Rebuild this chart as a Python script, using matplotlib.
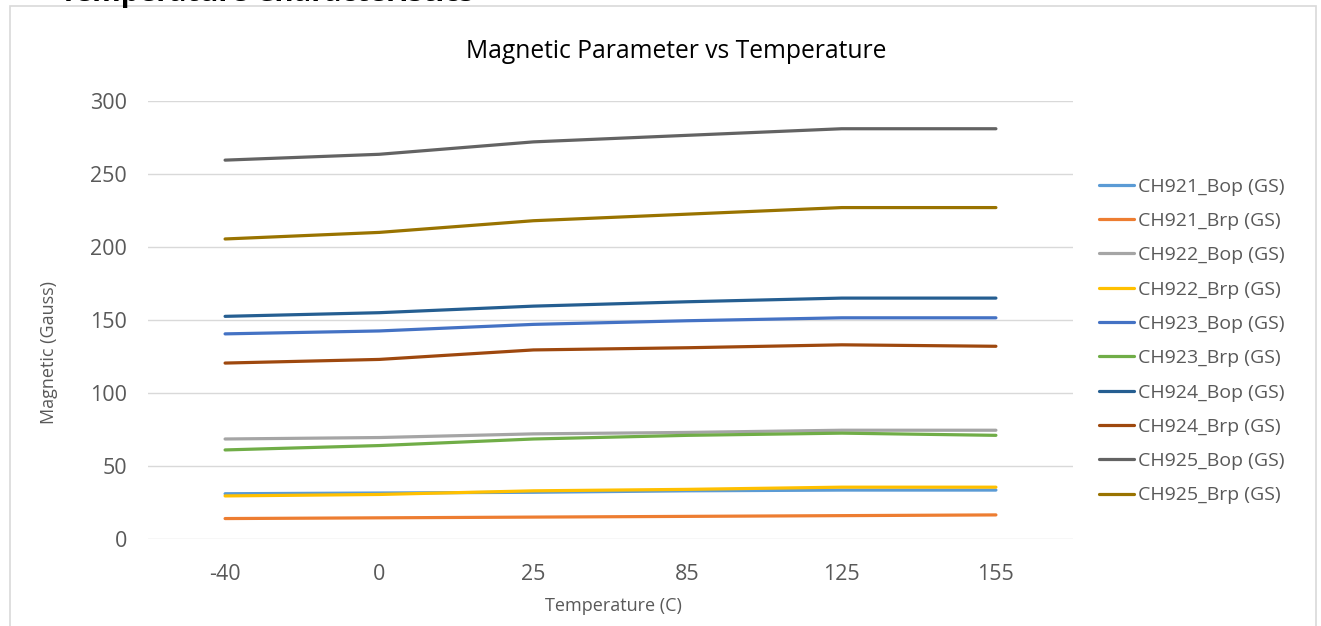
import matplotlib
matplotlib.use('Agg')
import matplotlib.pyplot as plt
from matplotlib.patches import Rectangle

plt.rcParams['font.family'] = ['Open Sans', 'DejaVu Sans']

# temperatures (categorical axis)
temperatures = ['-40', '0', '25', '85', '125', '155']

ch921_bop = [31, 31.5, 32, 33, 33.5, 33.5]
ch921_brp = [14, 14.5, 15, 15.5, 16, 16.5]
ch922_bop = [68.5, 69.5, 72, 73, 74.5, 74.5]
ch922_brp = [29.5, 30.5, 33, 34, 35.5, 35.5]
ch923_bop = [140.5, 142.5, 147, 149.5, 151.5, 151.5]
ch923_brp = [61, 64, 68.5, 71, 72.5, 71]
ch924_bop = [152.5, 155, 159.5, 162.5, 165, 165]
ch924_brp = [120.5, 123, 129.5, 131, 133, 132]
ch925_bop = [259.5, 263.5, 272, 276.5, 281, 281]
ch925_brp = [205.5, 210, 218, 222.5, 227, 227]

series_names = ['CH921_Bop (GS)', 'CH921_Brp (GS)', 'CH922_Bop (GS)', 'CH922_Brp (GS)',
                'CH923_Bop (GS)', 'CH923_Brp (GS)', 'CH924_Bop (GS)', 'CH924_Brp (GS)',
                'CH925_Bop (GS)', 'CH925_Brp (GS)']
series_values = [ch921_bop, ch921_brp, ch922_bop, ch922_brp, ch923_bop,
                 ch923_brp, ch924_bop, ch924_brp, ch925_bop, ch925_brp]
colors = ['#5B9BD5', '#ED7D31', '#A5A5A5', '#FFC000', '#4472C4',
          '#70AD47', '#255E91', '#9E480E', '#636363', '#997300']

W, H = 1321, 626
fig = plt.figure(figsize=(W / 100, H / 100), dpi=100)

# chart border
fig.patches.append(Rectangle((10 / W, -0.1), 1306 / W, 1.1 - 6 / H, transform=fig.transFigure,
                             fill=False, edgecolor='#D9D9D9', linewidth=1.2))
# heading of the page, mostly above the visible area
fig.text(60 / W, 1.0 + 6 / H, 'Temperature Characteristics', fontsize=21, fontweight='bold',
         color='black', ha='left', va='center')

ax = fig.add_axes([148 / W, 87 / H, 925 / W, 438 / H])
x = list(range(len(temperatures)))
for name, vals, c in zip(series_names, series_values, colors):
    ax.plot(x, vals, color=c, linewidth=2.3, label=name, solid_capstyle='round')

ax.set_xlim(-0.5, len(temperatures) - 0.5)
ax.set_ylim(0, 300)
ax.set_yticks(range(0, 301, 50))
ax.set_xticks(x)
ax.set_xticklabels(temperatures)
ax.grid(True, axis='y', color='#D9D9D9', linewidth=1)
ax.set_axisbelow(True)
for s in ax.spines.values():
    s.set_visible(False)
ax.tick_params(axis='both', length=0, labelsize=15.5, labelcolor='#595959')
ax.tick_params(axis='y', pad=15)
ax.tick_params(axis='x', pad=18)

fig.text(676 / W, 1 - 52 / H, 'Magnetic Parameter vs Temperature', fontsize=17.7,
         color='black', ha='center', va='center')
ax.set_xlabel('Temperature (C)', fontsize=13, color='#595959')
ax.set_ylabel('Magnetic (Gauss)', fontsize=13, color='#595959')
ax.xaxis.set_label_coords(0.503, -(597 - 539) / 438)
ax.yaxis.set_label_coords((58 - 148) / 925, (539 - 352) / 438)

fig.legend(loc='center left', bbox_to_anchor=(1081 / W, 1 - 341 / H), frameon=False,
           fontsize=14, labelcolor='#595959', handlelength=1.85, handletextpad=0.2,
           labelspacing=0.84)

fig.savefig('out.png', dpi=100)
